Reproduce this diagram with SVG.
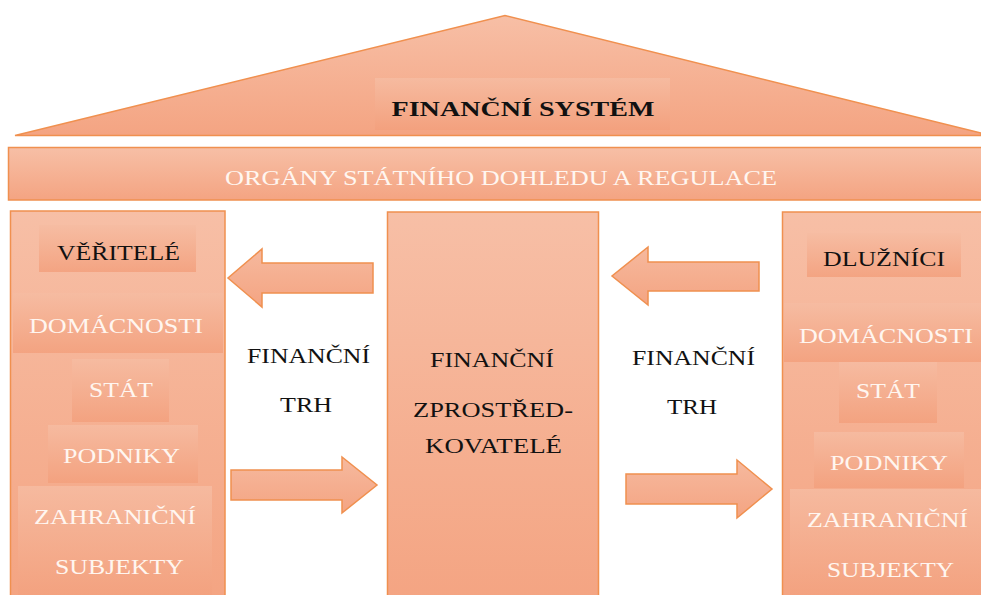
<svg xmlns="http://www.w3.org/2000/svg" width="981" height="595" viewBox="0 0 981 595">
  <defs>
    <linearGradient id="peach" x1="0" y1="0" x2="0" y2="1">
      <stop offset="0" stop-color="#F7BFA6"/>
      <stop offset="1" stop-color="#F4A482"/>
    </linearGradient>
    <linearGradient id="tile" x1="0" y1="0" x2="0" y2="1">
      <stop offset="0" stop-color="#F6BCA2"/>
      <stop offset="1" stop-color="#F3A07D"/>
    </linearGradient>
    <linearGradient id="arrowFill" x1="0" y1="0" x2="0" y2="1">
      <stop offset="0" stop-color="#F6B99E"/>
      <stop offset="1" stop-color="#F4A482"/>
    </linearGradient>
  </defs>
  <style>
    .frame { fill: url(#peach); stroke: #F0904F; stroke-width: 1.5; }
    .tile { fill: url(#tile); opacity: 0.85; }
    .arrow { fill: url(#arrowFill); stroke: #F0904F; stroke-width: 1.5; stroke-linejoin: miter; }
    text { font-family: "Liberation Serif", "Times New Roman", serif; font-size: 22px; text-anchor: middle; }
    .dark { fill: #111111; }
    .light { fill: #FFF6F0; }
    .title { font-weight: bold; font-size: 20px; }
  </style>

  <rect width="981" height="595" fill="#FFFFFF"/>

  <!-- roof -->
  <g id="roof">
    <polygon class="frame" points="15,135.5 505,15.5 981,133 981,135.5"/>
    <rect class="tile" x="375" y="78" width="295" height="52"/>
    <text class="dark title" x="523" y="116" textLength="263" lengthAdjust="spacingAndGlyphs">FINANČNÍ SYSTÉM</text>
  </g>

  <!-- supervision beam -->
  <g id="regulace">
    <rect class="frame" x="8.5" y="147.5" width="980" height="52.5"/>
    <text class="light" x="501" y="185" textLength="552" lengthAdjust="spacingAndGlyphs">ORGÁNY STÁTNÍHO DOHLEDU A REGULACE</text>
  </g>

  <!-- creditors -->
  <g id="veritele">
    <rect class="frame" x="10.5" y="211" width="214.5" height="390"/>
    <rect class="tile" x="39" y="225" width="157" height="47"/>
    <text class="dark" x="118.5" y="260" textLength="123" lengthAdjust="spacingAndGlyphs">VĚŘITELÉ</text>
    <rect class="tile" x="13" y="293" width="210" height="60"/>
    <text class="light" x="116" y="333" textLength="174" lengthAdjust="spacingAndGlyphs">DOMÁCNOSTI</text>
    <rect class="tile" x="72" y="359" width="97" height="63"/>
    <text class="light" x="121" y="397" textLength="64" lengthAdjust="spacingAndGlyphs">STÁT</text>
    <rect class="tile" x="48" y="425" width="150" height="58"/>
    <text class="light" x="121.5" y="463" textLength="117" lengthAdjust="spacingAndGlyphs">PODNIKY</text>
    <rect class="tile" x="18" y="486" width="194" height="115"/>
    <text class="light" x="115" y="524" textLength="162" lengthAdjust="spacingAndGlyphs">ZAHRANIČNÍ</text>
    <text class="light" x="119.5" y="574" textLength="129" lengthAdjust="spacingAndGlyphs">SUBJEKTY</text>
  </g>

  <!-- intermediaries -->
  <g id="zprostredkovatele">
    <rect class="frame" x="387.5" y="212" width="211" height="390"/>
    <text class="dark" x="492" y="367" textLength="124" lengthAdjust="spacingAndGlyphs">FINANČNÍ</text>
    <text class="dark" x="493" y="417" textLength="160" lengthAdjust="spacingAndGlyphs">ZPROSTŘED-</text>
    <text class="dark" x="493.5" y="453" textLength="137" lengthAdjust="spacingAndGlyphs">KOVATELÉ</text>
  </g>

  <!-- debtors -->
  <g id="dluznici">
    <rect class="frame" x="782.5" y="212" width="210" height="390"/>
    <rect class="tile" x="807" y="233" width="154" height="44"/>
    <text class="dark" x="884" y="266" textLength="122" lengthAdjust="spacingAndGlyphs">DLUŽNÍCI</text>
    <rect class="tile" x="784" y="303" width="197" height="59"/>
    <text class="light" x="886" y="343" textLength="174" lengthAdjust="spacingAndGlyphs">DOMÁCNOSTI</text>
    <rect class="tile" x="839" y="362" width="98" height="61"/>
    <text class="light" x="888" y="398" textLength="64" lengthAdjust="spacingAndGlyphs">STÁT</text>
    <rect class="tile" x="814" y="432" width="150" height="56"/>
    <text class="light" x="889" y="470" textLength="118" lengthAdjust="spacingAndGlyphs">PODNIKY</text>
    <rect class="tile" x="790" y="489" width="191" height="112"/>
    <text class="light" x="887.5" y="527" textLength="161" lengthAdjust="spacingAndGlyphs">ZAHRANIČNÍ</text>
    <text class="light" x="890.5" y="577" textLength="127" lengthAdjust="spacingAndGlyphs">SUBJEKTY</text>
  </g>

  <!-- market labels -->
  <g id="trh-levy">
    <text class="dark" x="308.5" y="363" textLength="123" lengthAdjust="spacingAndGlyphs">FINANČNÍ</text>
    <text class="dark" x="306" y="412" textLength="52" lengthAdjust="spacingAndGlyphs">TRH</text>
  </g>
  <g id="trh-pravy">
    <text class="dark" x="693.5" y="365" textLength="123" lengthAdjust="spacingAndGlyphs">FINANČNÍ</text>
    <text class="dark" x="692" y="414" textLength="50" lengthAdjust="spacingAndGlyphs">TRH</text>
  </g>

  <!-- flow arrows -->
  <g id="connectors">
    <polygon class="arrow" points="373,263 262,263 262,249 228,278 262,307 262,293 373,293"/>
    <polygon class="arrow" points="231,470 342,470 342,457 377,485 342,513 342,500 231,500"/>
    <polygon class="arrow" points="759,262 648,262 648,247 612,276 648,305 648,291 759,291"/>
    <polygon class="arrow" points="626,474 737,474 737,460 772,489 737,518 737,504 626,504"/>
  </g>
</svg>
